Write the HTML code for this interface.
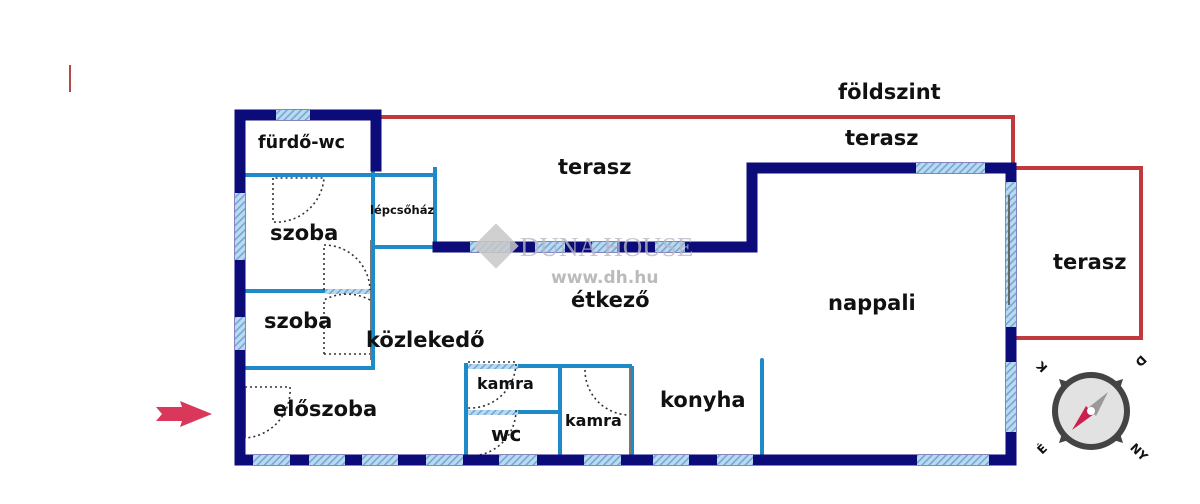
<!DOCTYPE html>
<html><head><meta charset="utf-8"><style>
html,body{margin:0;padding:0;background:#fff}
svg{display:block}
text{font-family:"DejaVu Sans","Liberation Sans",sans-serif;font-weight:bold;fill:#111}
</style></head><body>
<svg width="1200" height="504" viewBox="0 0 1200 504" xmlns="http://www.w3.org/2000/svg">
<defs>
<pattern id="h" width="5" height="5" patternUnits="userSpaceOnUse" patternTransform="rotate(45)">
<rect width="5" height="5" fill="#bcd9ef"/><rect width="1.6" height="5" fill="#6fa9d8"/>
</pattern>
</defs>
<rect width="1200" height="504" fill="#fff"/>
<line x1="70" y1="65" x2="70" y2="92" stroke="#b5464a" stroke-width="2"/>

<g stroke="#c0393c" stroke-width="4" fill="none">
<polyline points="378,117 1013,117 1013,168"/>
<polyline points="1016,168 1141,168 1141,338 1016,338"/>
</g>

<g stroke="#1e8bc8" stroke-width="4" fill="none" stroke-linecap="butt">
<line x1="240" y1="175" x2="435" y2="175"/>
<line x1="373" y1="170" x2="373" y2="368"/>
<line x1="435" y1="167" x2="435" y2="247"/>
<line x1="373" y1="247" x2="435" y2="247"/>
<line x1="240" y1="291" x2="325" y2="291"/>
<line x1="240" y1="368" x2="375" y2="368"/>
<line x1="466" y1="363" x2="466" y2="460"/>
<line x1="518" y1="366" x2="632" y2="366"/>
<line x1="560" y1="366" x2="560" y2="460"/>
<line x1="632" y1="366" x2="632" y2="460"/>
<line x1="518" y1="412" x2="560" y2="412"/>
<line x1="762" y1="360" x2="762" y2="460" stroke-linecap="round"/>
</g>
<rect x="325" y="289" width="46" height="5" fill="url(#h)"/>
<rect x="468" y="364" width="50" height="5" fill="url(#h)"/>
<rect x="468" y="410" width="50" height="5" fill="url(#h)"/>
<line x1="371" y1="240" x2="371" y2="360" stroke="#777" stroke-width="2"/>
<line x1="630" y1="368" x2="630" y2="455" stroke="#777" stroke-width="2"/>

<g stroke="#333" stroke-width="1.6" stroke-dasharray="2,3" fill="none">
<path d="M273,178 L273,222 A48,48 0 0 0 324,178 Z"/>
<path d="M324,290 L324,245 A46,46 0 0 1 370,290"/>
<path d="M324,354 L324,300 A48,48 0 0 1 370,300 M324,354 L370,354"/>
<path d="M245,387 L290,387 A48,48 0 0 1 245,438"/>
<path d="M468,362 L516,362 A46,46 0 0 1 468,408"/>
<path d="M470,456 A46,46 0 0 0 516,410"/>
<path d="M585,370 L585,370 A45,45 0 0 0 628,415"/>
</g>
<rect x="243" y="388" width="3" height="50" fill="#888"/>

<g stroke="#0b0b7a" stroke-width="11" fill="none" stroke-linecap="square" stroke-linejoin="miter">
<polyline points="240,115 376,115 376,166"/>
<line x1="240" y1="115" x2="240" y2="460"/>
<line x1="240" y1="460" x2="1011" y2="460"/>
<polyline points="1011,460 1011,168 752,168 752,247 438,247"/>
</g>
<g fill="url(#h)">
<rect x="276" y="110" width="34" height="10"/>
<rect x="235" y="193" width="10" height="67"/>
<rect x="235" y="317" width="10" height="33"/>
<rect x="253" y="455" width="37" height="10"/>
<rect x="309" y="455" width="36" height="10"/>
<rect x="362" y="455" width="36" height="10"/>
<rect x="426" y="455" width="37" height="10"/>
<rect x="499" y="455" width="38" height="10"/>
<rect x="584" y="455" width="37" height="10"/>
<rect x="653" y="455" width="36" height="10"/>
<rect x="717" y="455" width="36" height="10"/>
<rect x="917" y="455" width="72" height="10"/>
<rect x="916" y="163" width="69" height="10"/>
<rect x="1006" y="182" width="10" height="145"/>
<rect x="1006" y="362" width="10" height="70"/>
<rect x="470" y="242" width="40" height="10"/>
<rect x="535" y="242" width="30" height="10"/>
<rect x="592" y="242" width="25" height="10"/>
<rect x="655" y="242" width="30" height="10"/>
</g>
<line x1="1009" y1="195" x2="1009" y2="305" stroke="#666" stroke-width="2"/>

<rect x="480" y="230" width="32" height="32" fill="#c8c8c8" opacity="0.85" transform="rotate(45 496 246)"/>
<text x="520" y="256" style="font-family:'Liberation Serif',serif;font-weight:normal;fill:#b8b8c8;font-size:27px" opacity="0.8">DUNA HOUSE</text>
<text x="551" y="283" style="font-size:17px;fill:#bbb">www.dh.hu</text>

<text x="258" y="148" font-size="17.5">fürdő-wc</text>
<text x="558" y="174" font-size="21">terasz</text>
<text x="845" y="145" font-size="21">terasz</text>
<text x="838" y="99" font-size="21">földszint</text>
<text x="1053" y="269" font-size="21">terasz</text>
<text x="370" y="214" font-size="11.5">lépcsőház</text>
<text x="270" y="240" font-size="21">szoba</text>
<text x="264" y="328" font-size="21">szoba</text>
<text x="366" y="347" font-size="21">közlekedő</text>
<text x="571" y="307" font-size="21">étkező</text>
<text x="828" y="310" font-size="21">nappali</text>
<text x="273" y="416" font-size="21">előszoba</text>
<text x="477" y="389" font-size="16">kamra</text>
<text x="565" y="426" font-size="16">kamra</text>
<text x="491" y="441" font-size="20">wc</text>
<text x="660" y="407" font-size="21">konyha</text>

<polygon points="156,407 182,407 180,401 212,414 180,427 182,421 156,421 162,414" fill="#d9385a"/>

<g transform="translate(1091,411)">
<polygon points="-32,-32 0,-22 32,-32 22,0 32,32 0,22 -32,32 -22,0" fill="#444"/>
<circle r="39" fill="#444"/>
<circle r="33" fill="#e2e2e2"/>
<polygon points="17,-19 5,5 -3,-3" fill="#999"/>
<polygon points="-19,19 -5,-5 3,3" fill="#cc1f4f"/>
<circle r="4" fill="#fff"/>
</g>
<g font-size="12" style="fill:#555">
<text x="0" y="0" transform="translate(1045,364) rotate(-135)" text-anchor="middle">K</text>
<text x="0" y="0" transform="translate(1138,358) rotate(135)" text-anchor="middle">D</text>
<text x="0" y="0" transform="translate(1045,452) rotate(-45)" text-anchor="middle">É</text>
<text x="0" y="0" transform="translate(1136,455) rotate(45)" text-anchor="middle">NY</text>
</g>
</svg>
</body></html>
